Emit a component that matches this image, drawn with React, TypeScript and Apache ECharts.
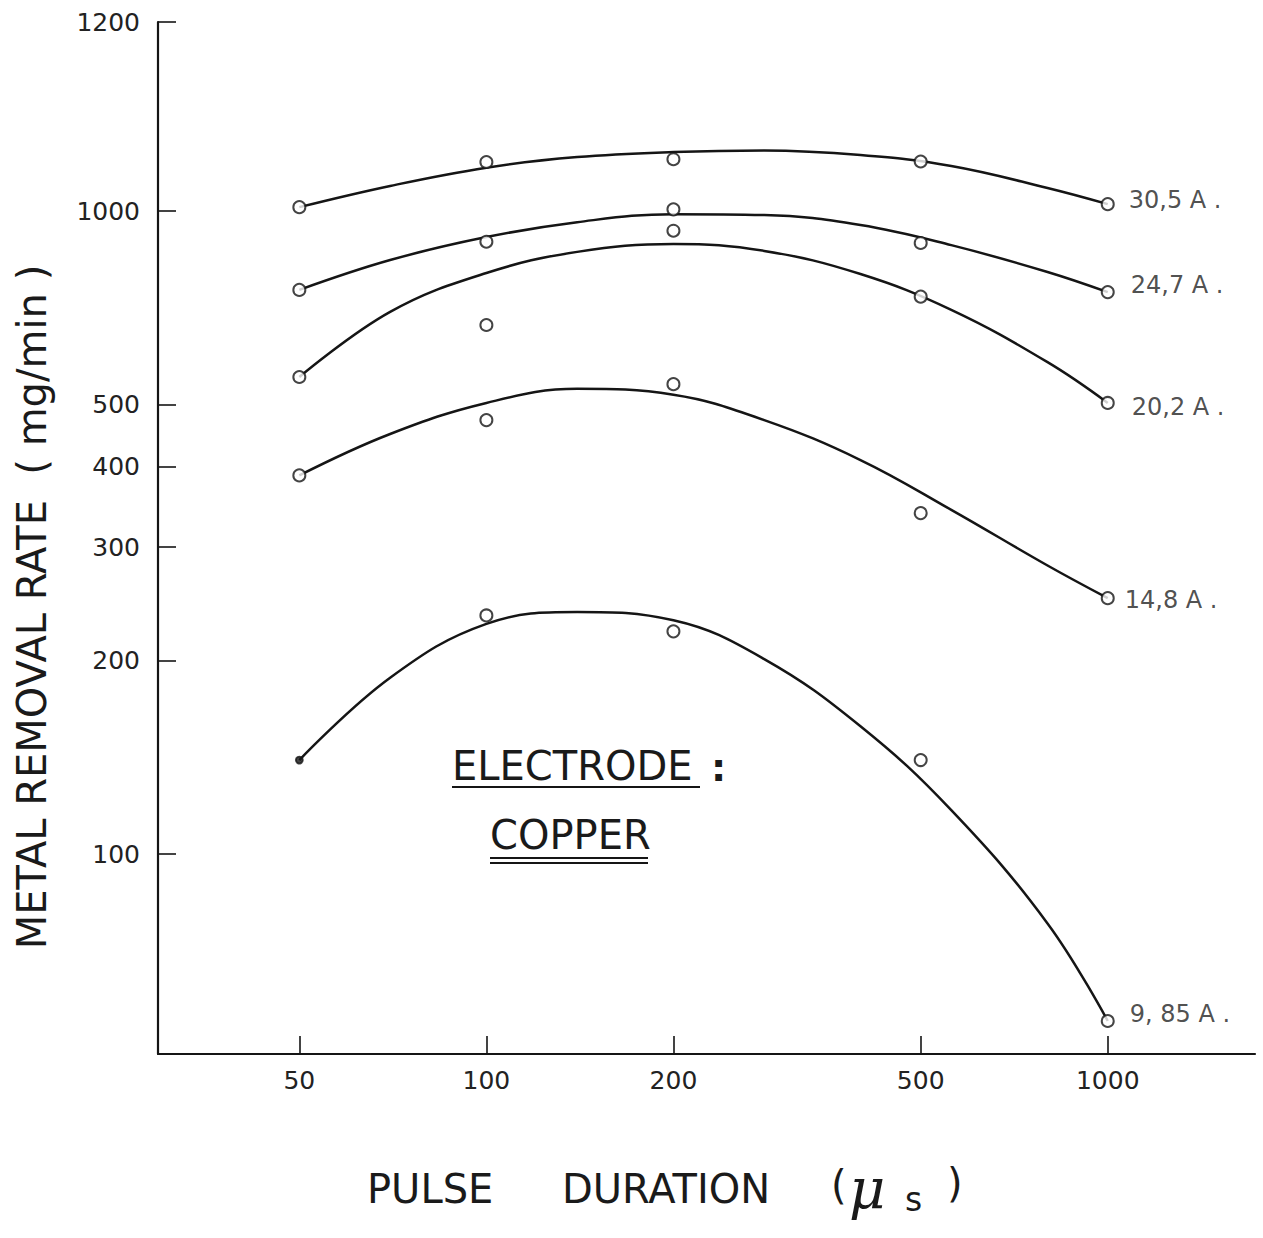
import React, { useEffect, useRef } from "react";
import * as echarts from "echarts";

// ---- data ----
const pulseTicks = [50, 100, 200, 500, 1000]; // µs
const rateTicks = [100, 200, 300, 400, 500, 1000]; // mg/min
const rateTopLabel = "1200";

const seriesNames = ["30,5 A .", "24,7 A .", "20,2 A .", "14,8 A .", "9, 85 A ."];

// measured points (pulse duration µs)
const pointX = [50, 100, 200, 500, 1000];
const pts305 = [1014, 1192, 1204, 1194, 1025];
const pts247 = [754, 896, 1006, 892, 748];
const pts202 = [552, 665, 932, 736, 503];
const pts148 = [388, 473, 538, 339, 250];
const pts985 = [140, 235, 222, 140, 55];

// fitted curves
const curveX = [50, 70, 100, 140, 200, 280, 400, 560, 800, 1000];
const curve305 = [1014, 1094, 1168, 1213, 1235, 1242, 1222, 1175, 1086, 1025];
const curve247 = [754, 839, 911, 961, 989, 986, 951, 885, 804, 748];
const curve202 = [552, 697, 801, 864, 889, 867, 798, 702, 582, 503];
const curve148 = [388, 450, 503, 529, 518, 473, 410, 343, 281, 250];
const curve985 = [140, 188, 228, 238, 231, 201, 158, 117, 78, 55];

const allPoints = [pts305, pts247, pts202, pts148, pts985];
const allCurves = [curve305, curve247, curve202, curve148, curve985];

// ---- styling ----
const INK = "#151515";
const FONT = "DejaVu Sans";
const X_MIN = 1.4715;
const X_MAX = 3.237;
const Y_MIN = 1.689;
const Y_MAX = 3.294;
const labelOffsets = [
  [0, -4],
  [2, -7],
  [3, 4],
  [-4, 2],
  [1, -7],
];

const lg = (v: number) => Math.log10(v);

export default function App() {
  const ref = useRef<HTMLDivElement>(null);
  useEffect(() => {
    if (!ref.current) return;
    const chart = echarts.init(ref.current, null, { renderer: "svg" });

    const lineSeries = allCurves.map((c, i) => ({
      type: "line",
      name: seriesNames[i] + " curve",
      data: curveX.map((x, j) => [lg(x), lg(c[j])]),
      smooth: 0.4,
      symbol: "none",
      lineStyle: { color: INK, width: 2.5 },
      z: 2,
      silent: true,
    }));

    const pointSeries = allPoints.map((p, i) => ({
      type: "scatter",
      name: seriesNames[i],
      symbol: "emptyCircle",
      symbolSize: 12,
      itemStyle: { color: INK, borderColor: INK, borderWidth: 1.8 },
      z: 3,
      data: pointX.map((x, j) => {
        const item: any = { value: [lg(x), lg(p[j])] };
        if (i === 4 && j === 0) {
          item.symbol = "circle";
          item.symbolSize = 7;
        }
        if (j === pointX.length - 1) {
          item.label = {
            show: true,
            position: "right",
            distance: 14,
            offset: labelOffsets[i],
            formatter: seriesNames[i],
            fontSize: 24,
            fontFamily: FONT,
            color: "#222",
          };
        }
        return item;
      }),
    }));

    const textStyle = (text: string, size: number, extra: any = {}) => ({
      text,
      fontSize: size,
      fontFamily: FONT,
      fill: "#1a1a1a",
      align: "left",
      verticalAlign: "middle",
      ...extra,
    });

    const option: any = {
      animation: false,
      backgroundColor: "#ffffff",
      grid: {
        left: 158,
        right: 8,
        top: 22,
        bottom: 184,
        containLabel: false,
        outerBoundsMode: "none",
      },
      xAxis: {
        type: "value",
        min: X_MIN,
        max: X_MAX,
        axisLine: { show: true, onZero: false, lineStyle: { color: INK, width: 2.2 } },
        axisTick: {
          show: true,
          inside: true,
          length: 18,
          customValues: pulseTicks.map(lg),
          lineStyle: { color: INK, width: 1.6 },
        },
        axisLabel: {
          customValues: pulseTicks.map(lg),
          formatter: (v: number) => String(Math.round(Math.pow(10, v))),
          fontSize: 25,
          fontFamily: FONT,
          color: "#222",
          margin: 14,
        },
        splitLine: { show: false },
      },
      yAxis: {
        type: "value",
        min: Y_MIN,
        max: Y_MAX,
        axisLine: { show: true, onZero: false, lineStyle: { color: INK, width: 2.2 } },
        axisTick: {
          show: true,
          inside: true,
          length: 18,
          customValues: [...rateTicks.map(lg), Y_MAX],
          lineStyle: { color: INK, width: 1.6 },
        },
        axisLabel: {
          customValues: [...rateTicks.map(lg), Y_MAX],
          formatter: (v: number) =>
            v >= Y_MAX - 1e-9 ? rateTopLabel : String(Math.round(Math.pow(10, v))),
          fontSize: 25,
          fontFamily: FONT,
          color: "#222",
          margin: 18,
        },
        splitLine: { show: false },
      },
      series: [...lineSeries, ...pointSeries],
      graphic: [
        {
          type: "text",
          x: 32,
          y: 607,
          rotation: Math.PI / 2,
          style: textStyle("METAL REMOVAL RATE  ( mg/min )", 40, { align: "center" }),
        },
        { type: "text", x: 367, y: 1189, style: textStyle("PULSE", 40) },
        { type: "text", x: 562, y: 1189, style: textStyle("DURATION", 40) },
        { type: "text", x: 831, y: 1185, style: textStyle("(", 40) },
        {
          type: "text",
          x: 849,
          y: 1188,
          style: textStyle("μ", 56, { fontFamily: "DejaVu Serif", fontStyle: "italic" }),
        },
        { type: "text", x: 905, y: 1199, style: textStyle("s", 33) },
        { type: "text", x: 947, y: 1183, style: textStyle(")", 40) },
        { type: "text", x: 452, y: 766, style: textStyle("ELECTRODE", 40) },
        { type: "text", x: 711, y: 768, style: textStyle(":", 38, { fontWeight: "bold" }) },
        {
          type: "line",
          shape: { x1: 452, y1: 787, x2: 700, y2: 787 },
          style: { stroke: INK, lineWidth: 2 },
        },
        { type: "text", x: 490, y: 835, style: textStyle("COPPER", 40) },
        {
          type: "line",
          shape: { x1: 490, y1: 858, x2: 648, y2: 858 },
          style: { stroke: INK, lineWidth: 2 },
        },
        {
          type: "line",
          shape: { x1: 490, y1: 863, x2: 648, y2: 863 },
          style: { stroke: INK, lineWidth: 2 },
        },
      ],
    };

    chart.setOption(option);
    return () => chart.dispose();
  }, []);

  return (
    <div
      ref={ref}
      style={{ position: "fixed", left: 0, top: 0, width: 1263, height: 1238, background: "#fff" }}
    />
  );
}
